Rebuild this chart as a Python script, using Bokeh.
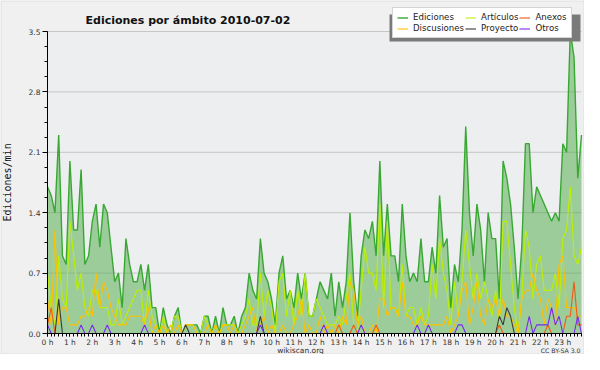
from bokeh.plotting import figure
from bokeh.models import Range1d, FixedTicker, Label, Legend, LegendItem, BoxAnnotation, ColumnDataSource
from bokeh.embed import file_html
from bokeh.resources import INLINE

# ---- data (edits per minute, 10-minute slots, 2010-07-02) ----
minutes = list(range(0, 1440, 10))

ediciones = [
    1.7, 1.6, 1.4, 2.3, 0.9, 0.8, 2.0, 1.2, 1.2, 1.9, 0.8, 0.9,
    1.3, 1.5, 1.0, 1.5, 1.4, 1.0, 0.6, 0.7, 0.3, 1.1, 0.8, 0.6,
    0.6, 0.8, 0.5, 0.8, 0.3, 0.3, 0.0, 0.3, 0.1, 0.0, 0.2, 0.3,
    0.0, 0.1, 0.1, 0.1, 0.1, 0.0, 0.2, 0.2, 0.0, 0.2, 0.0, 0.3,
    0.1, 0.1, 0.2, 0.0, 0.2, 0.3, 0.7, 0.5, 0.4, 1.1, 0.7, 0.6,
    0.4, 0.1, 0.7, 0.9, 0.4, 0.5, 0.3, 0.7, 0.4, 0.7, 0.2, 0.2,
    0.4, 0.6, 0.5, 0.4, 0.7, 0.2, 0.6, 0.3, 0.6, 1.4, 0.6, 0.2,
    0.9, 1.2, 1.1, 1.3, 0.9, 2.0, 0.9, 1.5, 0.9, 0.9, 0.6, 1.5,
    0.9, 0.6, 0.7, 0.6, 1.1, 0.6, 0.6, 1.0, 0.7, 1.6, 1.0, 1.1,
    0.3, 0.8, 0.6, 1.2, 2.4, 1.4, 0.9, 1.5, 1.2, 0.6, 1.4, 1.1,
    1.1, 0.4, 2.0, 1.8, 1.5, 1.0, 0.4, 1.0, 2.2, 2.2, 1.4, 1.7,
    1.6, 1.5, 1.4, 1.3, 1.4, 1.3, 2.2, 2.1, 3.5, 3.2, 1.8, 2.3,
]

articulos = [
    0.7, 0.3, 0.1, 0.9, 0.4, 0.3, 1.3, 0.9, 0.5, 0.7, 0.3, 0.2,
    0.5, 0.5, 0.3, 0.3, 0.3, 0.1, 0.1, 0.4, 0.1, 0.2, 0.3, 0.4,
    0.5, 0.5, 0.1, 0.5, 0.2, 0.1, 0.0, 0.2, 0.0, 0.0, 0.2, 0.2,
    0.0, 0.1, 0.1, 0.1, 0.0, 0.0, 0.2, 0.1, 0.0, 0.1, 0.0, 0.1,
    0.1, 0.1, 0.1, 0.0, 0.1, 0.2, 0.4, 0.1, 0.1, 0.7, 0.2, 0.5,
    0.3, 0.0, 0.6, 0.7, 0.2, 0.5, 0.1, 0.5, 0.2, 0.7, 0.2, 0.2,
    0.4, 0.3, 0.2, 0.1, 0.1, 0.1, 0.2, 0.1, 0.4, 0.7, 0.1, 0.0,
    0.5, 1.0, 0.7, 0.7, 0.5, 1.5, 0.3, 1.3, 0.3, 0.3, 0.2, 0.8,
    0.2, 0.3, 0.3, 0.1, 0.3, 0.1, 0.2, 0.8, 0.4, 1.1, 0.7, 0.5,
    0.1, 0.6, 0.2, 0.6, 1.2, 0.8, 0.4, 0.7, 0.4, 0.6, 0.4, 0.2,
    0.5, 0.1, 1.3, 1.3, 0.8, 0.3, 0.0, 0.4, 1.2, 1.0, 0.4, 0.8,
    0.9, 0.5, 0.5, 0.5, 0.7, 0.3, 1.1, 1.2, 1.7, 0.9, 0.8, 1.0,
]

discusiones = [
    0.4, 0.1, 1.2, 0.1, 0.3, 0.3, 0.1, 0.1, 0.1, 0.2, 0.2, 0.3,
    0.2, 0.7, 0.3, 0.6, 0.5, 0.3, 0.2, 0.1, 0.1, 0.1, 0.2, 0.2,
    0.2, 0.2, 0.1, 0.3, 0.0, 0.1, 0.0, 0.1, 0.0, 0.1, 0.0, 0.1,
    0.0, 0.1, 0.1, 0.1, 0.0, 0.0, 0.0, 0.1, 0.0, 0.1, 0.0, 0.1,
    0.1, 0.0, 0.1, 0.0, 0.0, 0.1, 0.2, 0.3, 0.0, 0.1, 0.2, 0.0,
    0.1, 0.0, 0.0, 0.1, 0.0, 0.0, 0.1, 0.2, 0.4, 0.0, 0.1, 0.0,
    0.0, 0.2, 0.0, 0.1, 0.0, 0.1, 0.0, 0.2, 0.1, 0.6, 0.5, 0.1,
    0.2, 0.0, 0.0, 0.1, 0.0, 0.4, 0.4, 0.2, 0.3, 0.3, 0.2, 0.6,
    0.2, 0.2, 0.1, 0.1, 0.2, 0.1, 0.1, 0.1, 0.1, 0.1, 0.1, 0.2,
    0.0, 0.1, 0.2, 0.5, 0.6, 0.1, 0.3, 0.6, 0.2, 0.1, 0.4, 0.3,
    0.4, 0.2, 0.4, 0.2, 0.2, 0.1, 0.0, 0.4, 0.5, 0.5, 0.7, 0.5,
    0.4, 0.1, 0.4, 0.3, 0.1, 0.8, 0.9, 0.3, 0.3, 0.3, 0.2, 0.2,
]

anexos = [
    0.1, 0.3, 0, 0, 0, 0, 0, 0, 0, 0, 0, 0,
    0, 0, 0, 0, 0, 0, 0, 0, 0, 0, 0, 0,
    0, 0, 0, 0, 0, 0, 0, 0, 0, 0, 0, 0,
    0, 0, 0, 0, 0, 0, 0, 0, 0, 0, 0, 0,
    0, 0, 0, 0, 0, 0, 0, 0, 0, 0, 0, 0,
    0, 0, 0, 0, 0, 0, 0, 0, 0, 0, 0, 0,
    0, 0, 0, 0, 0, 0, 0.1, 0, 0, 0, 0.1, 0,
    0, 0, 0, 0, 0.1, 0, 0, 0, 0, 0, 0, 0,
    0, 0, 0, 0, 0, 0, 0, 0, 0, 0, 0, 0,
    0, 0, 0, 0, 0, 0, 0, 0, 0, 0, 0, 0,
    0, 0.1, 0, 0, 0, 0, 0, 0, 0, 0, 0, 0,
    0, 0, 0.1, 0, 0, 0, 0, 0.2, 0.2, 0.6, 0.1, 0.1,
]

proyecto = [
    0, 0, 0, 0.4, 0, 0, 0, 0, 0, 0, 0, 0,
    0, 0, 0, 0, 0, 0, 0, 0, 0, 0, 0, 0,
    0, 0, 0, 0, 0, 0, 0, 0, 0, 0, 0, 0,
    0, 0.1, 0, 0, 0, 0, 0, 0, 0, 0, 0, 0,
    0, 0, 0, 0, 0, 0, 0, 0, 0, 0.2, 0, 0,
    0, 0, 0, 0, 0, 0, 0, 0, 0, 0, 0, 0,
    0, 0, 0, 0, 0, 0, 0, 0, 0, 0, 0, 0,
    0, 0, 0, 0, 0, 0, 0, 0, 0, 0, 0, 0,
    0, 0, 0, 0, 0, 0, 0, 0, 0, 0, 0, 0,
    0, 0, 0, 0, 0, 0, 0, 0, 0, 0, 0, 0,
    0, 0.2, 0.1, 0.3, 0.2, 0, 0, 0, 0, 0, 0, 0,
    0, 0, 0, 0, 0, 0, 0, 0, 0, 0, 0, 0,
]

otros = [
    0.1, 0, 0, 0, 0, 0, 0, 0, 0, 0.1, 0, 0,
    0.1, 0, 0, 0, 0.1, 0, 0, 0, 0, 0, 0, 0,
    0, 0, 0.1, 0, 0, 0, 0, 0, 0, 0, 0, 0,
    0, 0, 0, 0, 0, 0, 0, 0, 0, 0, 0, 0,
    0, 0, 0, 0, 0, 0, 0, 0, 0, 0.1, 0, 0,
    0, 0, 0, 0, 0, 0, 0, 0, 0, 0, 0, 0,
    0, 0, 0.1, 0, 0, 0, 0, 0, 0, 0, 0, 0,
    0.1, 0, 0, 0, 0, 0, 0, 0, 0, 0, 0, 0,
    0, 0, 0, 0.1, 0, 0, 0.1, 0, 0, 0, 0, 0,
    0, 0, 0.1, 0.1, 0, 0, 0, 0, 0, 0, 0, 0,
    0, 0, 0, 0, 0, 0, 0, 0, 0, 0.2, 0, 0.1,
    0.1, 0.1, 0.1, 0.3, 0.1, 0.2, 0, 0, 0, 0, 0.2, 0,
]

hour_ticks = list(range(24))
hour_labels = ["%d h" % h for h in hour_ticks]
y_ticks = [0.0, 0.7, 1.4, 2.1, 2.8, 3.5]
y_labels = ["0.0", "0.7", "1.4", "2.1", "2.8", "3.5"]
y_minor = [0.175 * i for i in range(21)]
y_max = 3.5

title_text = "Ediciones por ámbito  2010-07-02"

# ---- layout constants (pixels on the 584x354 canvas) ----
W, H = 584, 354
X0_PX, XEND_PX = 47, 581               # where 0 h and 23:50 sit
Y_TOP_PX, Y_ZERO_PX = 31, 333          # where 3.5 and 0 sit

hours = [m / 60 for m in minutes]
x_end = hours[-1]
ppx = (XEND_PX - X0_PX) / x_end
x_lo = -X0_PX / ppx
x_hi = x_end + (W - XEND_PX) / ppx
ppu = (Y_ZERO_PX - Y_TOP_PX) / y_max
y_lo = -(H - Y_ZERO_PX) / ppu
y_hi = y_max + Y_TOP_PX / ppu

src = ColumnDataSource(dict(x=hours, total=ediciones, art=articulos, dis=discusiones,
                            anx=anexos, pro=proyecto, otr=otros, zero=[0] * len(hours)))

p = figure(width=W, height=H, output_backend="svg", toolbar_location=None,
           x_range=Range1d(x_lo, x_hi), y_range=Range1d(y_lo, y_hi),
           min_border=0)
p.title = None
p.border_fill_color = "#f0f0f0"
p.background_fill_color = "#f0f0f0"
p.outline_line_color = None

# plot-area background (0..23:50, 0..3.5)
p.add_layout(BoxAnnotation(left=0, right=x_end, bottom=0, top=y_max,
                           fill_color="#eceef0", fill_alpha=1, line_color=None, level="image"))

# outer image border
p.add_layout(BoxAnnotation(left=0.5, right=W - 0.5, bottom=0.5, top=H - 0.5,
                           left_units="screen", right_units="screen",
                           bottom_units="screen", top_units="screen",
                           fill_alpha=0, line_color="#b4b4b4", line_width=1, level="image"))

# horizontal grid lines limited to the plot area
p.grid.visible = False
grid = p.segment(x0=[0] * len(y_ticks), x1=[x_end] * len(y_ticks), y0=y_ticks, y1=y_ticks,
                 line_color="#c6c6c6", line_width=1)
grid.level = "underlay"

for ax in (p.xaxis[0], p.yaxis[0]):
    ax.fixed_location = 0
    ax.axis_line_color = "black"
    ax.major_tick_line_color = "black"
    ax.minor_tick_line_color = "black"
    ax.major_tick_in = 0
    ax.minor_tick_in = 0
    ax.major_label_text_font = "DejaVu Sans"
    ax.major_label_text_font_size = "7.5px"
    ax.major_label_text_color = "#333333"

p.xaxis.bounds = (0, x_end)
p.xaxis.ticker = FixedTicker(ticks=hour_ticks, minor_ticks=hours)
p.xaxis.major_label_overrides = dict(zip(hour_ticks, hour_labels))
p.xaxis.major_tick_out = 3
p.xaxis.minor_tick_out = 3
p.xaxis.major_label_standoff = 1

p.yaxis.bounds = (0, y_max)
p.yaxis.ticker = FixedTicker(ticks=y_ticks, minor_ticks=y_minor)
p.yaxis.major_label_overrides = dict(zip(y_ticks, y_labels))
p.yaxis.major_tick_out = 5
p.yaxis.minor_tick_out = 3
p.yaxis.major_label_standoff = 2
p.yaxis.axis_label = "Ediciones/min"
p.yaxis.axis_label_text_font = "DejaVu Sans Mono"
p.yaxis.axis_label_text_font_style = "normal"
p.yaxis.axis_label_text_font_size = "10px"
p.yaxis.axis_label_text_color = "#111111"
p.yaxis.axis_label_standoff = 13

p.varea(x="x", y1="zero", y2="total", source=src, fill_color="#4ca943", fill_alpha=0.5)
r_ed = p.line("x", "total", source=src, line_color="#38a832", line_width=1.4)
r_ar = p.line("x", "art", source=src, line_color="#bdf000", line_width=1.1)
r_di = p.line("x", "dis", source=src, line_color="#ffc000", line_width=1.1)
r_an = p.line("x", "anx", source=src, line_color="#f05a14", line_width=1.1)
r_pr = p.line("x", "pro", source=src, line_color="#3a3a3a", line_width=1.1)
r_ot = p.line("x", "otr", source=src, line_color="#7a28f0", line_width=1.1)

# legend box and its shadow (offset left / down)
LG_L, LG_R, LG_T, LG_B = 392, 583, 11, 38
p.add_layout(BoxAnnotation(left=LG_L - 3, right=LG_R - 3, bottom=H - LG_B - 3, top=H - LG_T - 3,
                           left_units="screen", right_units="screen",
                           bottom_units="screen", top_units="screen",
                           fill_color="#7a7a7a", fill_alpha=1, line_color=None))

legend = Legend(items=[
    LegendItem(label="Ediciones", renderers=[r_ed]),
    LegendItem(label="Artículos", renderers=[r_ar]),
    LegendItem(label="Anexos", renderers=[r_an]),
    LegendItem(label="Discusiones", renderers=[r_di]),
    LegendItem(label="Proyecto", renderers=[r_pr]),
    LegendItem(label="Otros", renderers=[r_ot]),
], orientation="horizontal", ncols=3, location=(LG_L, H - LG_B))
legend.label_text_font = "DejaVu Sans"
legend.label_text_font_size = "8.6px"
legend.label_text_color = "#222222"
legend.glyph_width = 11
legend.glyph_height = 9
legend.label_height = 9
legend.label_standoff = 5
legend.spacing = 1
legend.padding = 4
legend.margin = 0
legend.background_fill_color = "white"
legend.background_fill_alpha = 1
legend.border_line_color = "#aaaaaa"
p.add_layout(legend)

p.add_layout(Label(x=85, y=H - 20, x_units="screen", y_units="screen", text=title_text,
                   text_font="DejaVu Sans", text_font_style="bold", text_font_size="11px",
                   text_color="#111111", text_baseline="alphabetic"))
p.add_layout(Label(x=300, y=4, x_units="screen", y_units="screen", text="wikiscan.org",
                   text_align="center", text_baseline="alphabetic",
                   text_font="DejaVu Sans", text_font_size="7.5px", text_color="#333333"))
p.add_layout(Label(x=580, y=4, x_units="screen", y_units="screen", text="CC BY-SA 3.0",
                   text_align="right", text_baseline="alphabetic",
                   text_font="DejaVu Sans", text_font_size="6.2px", text_color="#333333"))

open("out.html", "w").write(file_html(p, INLINE))
